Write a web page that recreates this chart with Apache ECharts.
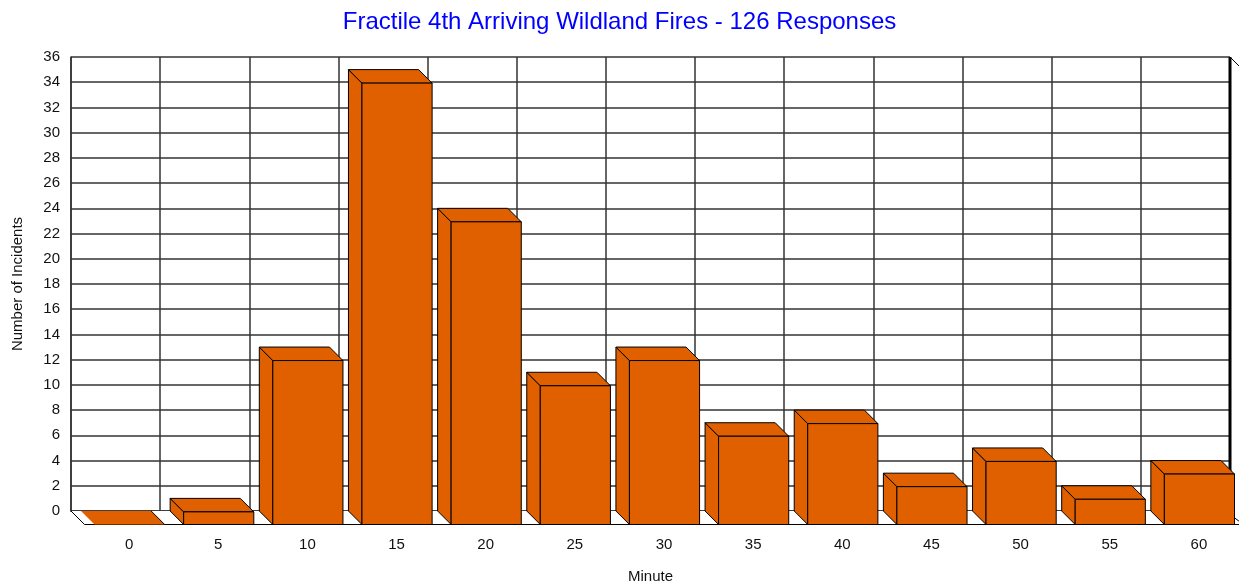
<!DOCTYPE html>
<html>
<head>
<meta charset="utf-8">
<script src="https://cdn.jsdelivr.net/npm/echarts@6/dist/echarts.min.js"></script>
<style>
html,body{margin:0;padding:0;background:#fff;}
#c{width:1239px;height:583px;}
</style>
</head>
<body>
<div id="c"></div>
<script>
const categories = ['0','5','10','15','20','25','30','35','40','45','50','55','60'];
const incidents = [0, 1, 13, 35, 24, 11, 13, 7, 8, 3, 5, 2, 4];
const yTicks = {min: 0, max: 36, interval: 2};
const titleText = 'Fractile 4th Arriving Wildland Fires - 126 Responses';
const xName = 'Minute';
const yName = 'Number of Incidents';

const D = 13.5;          // 3D depth offset
const BAR_COLOR = '#E06000';
const FONT = 'Liberation Sans, Arial, sans-serif';

const chart = echarts.init(document.getElementById('c'), null, {renderer: 'canvas'});

function renderBar(params, api) {
  const i = api.value(0), v = api.value(1);
  const base = api.coord([i, 0]);
  const top = api.coord([i, v]);
  const bw = api.size([1, 0])[0];
  const x0 = base[0] - bw / 2 + 10;
  const w = bw - 19;
  const yt = top[1], yb = base[1];
  const st = {fill: BAR_COLOR, stroke: '#000', lineWidth: 1};
  const children = [];
  if (v > 0) {
    children.push({type: 'polygon', shape: {points: [[x0, yt], [x0 + D, yt + D], [x0 + D, yb + D], [x0, yb]]}, style: st});
  }
  children.push({type: 'polygon', shape: {points: [[x0, yt], [x0 + w, yt], [x0 + w + D, yt + D], [x0 + D, yt + D]]}, style: v > 0 ? st : {fill: BAR_COLOR, stroke: null}});
  if (v > 0) {
    children.push({type: 'rect', shape: {x: x0 + D, y: yt + D, width: w, height: yb - yt}, style: st});
  } else {
    children.push({type: 'line', shape: {x1: x0 + w, y1: yt, x2: x0 + w + D, y2: yt + D}, style: {stroke: '#000', lineWidth: 1}});
  }
  return {type: 'group', children: children};
}

function renderFrame(params, api) {
  const cs = params.coordSys;
  const L = cs.x, T = cs.y, R = cs.x + cs.width, B = cs.y + cs.height;
  const ls = {stroke: '#000', lineWidth: 1};
  return {type: 'group', children: [
    {type: 'polygon', shape: {points: [[L, B], [R, B], [R + D, B + D], [L + D, B + D]]}, style: {fill: '#fff', stroke: null}, z2: -1},
    {type: 'line', shape: {x1: L, y1: B, x2: L + D, y2: B + D}, style: ls},
    {type: 'line', shape: {x1: L + D, y1: B + D, x2: R + D, y2: B + D}, style: ls},
    {type: 'line', shape: {x1: R, y1: T, x2: R, y2: B + 4}, style: {stroke: '#000', lineWidth: 3}},
    {type: 'line', shape: {x1: R, y1: T, x2: R + D, y2: T + D}, style: ls},
    {type: 'line', shape: {x1: R + 2, y1: B + 5, x2: R + D, y2: B + D}, style: ls}
  ]};
}

chart.setOption({
  animation: false,
  backgroundColor: '#fff',
  title: {
    text: titleText, left: 'center', top: 5,
    textStyle: {color: '#0000FF', fontFamily: FONT, fontSize: 24, fontWeight: 'normal'}
  },
  grid: {left: 71, top: 57, right: 9, bottom: 72, outerBoundsMode: 'none', containLabel: false},
  xAxis: {
    type: 'category', data: categories, boundaryGap: true,
    name: xName, nameLocation: 'middle', nameGap: 58,
    nameTextStyle: {color: '#111', fontFamily: FONT, fontSize: 15},
    axisLine: {show: true, lineStyle: {color: '#333', width: 1.5}},
    axisTick: {show: false},
    axisLabel: {margin: 26, color: '#111', fontFamily: FONT, fontSize: 15, padding: [0, 0, 0, 27]},
    splitLine: {show: true, lineStyle: {color: '#333', width: 1.5}}
  },
  yAxis: {
    type: 'value', min: yTicks.min, max: yTicks.max, interval: yTicks.interval,
    name: yName, nameLocation: 'middle', nameGap: 46,
    nameTextStyle: {color: '#111', fontFamily: FONT, fontSize: 15},
    axisLine: {show: true, lineStyle: {color: '#333', width: 1.5}},
    axisTick: {show: false},
    axisLabel: {margin: 11, color: '#111', fontFamily: FONT, fontSize: 15},
    splitLine: {show: true, lineStyle: {color: '#333', width: 1.5}}
  },
  series: [
    {type: 'custom', renderItem: renderFrame, data: [[0, 0]], silent: true, z: 1, clip: false},
    {type: 'custom', renderItem: renderBar, data: incidents.map((v, i) => [i, v]), silent: true, z: 2, clip: false}
  ]
});
</script>
</body>
</html>
